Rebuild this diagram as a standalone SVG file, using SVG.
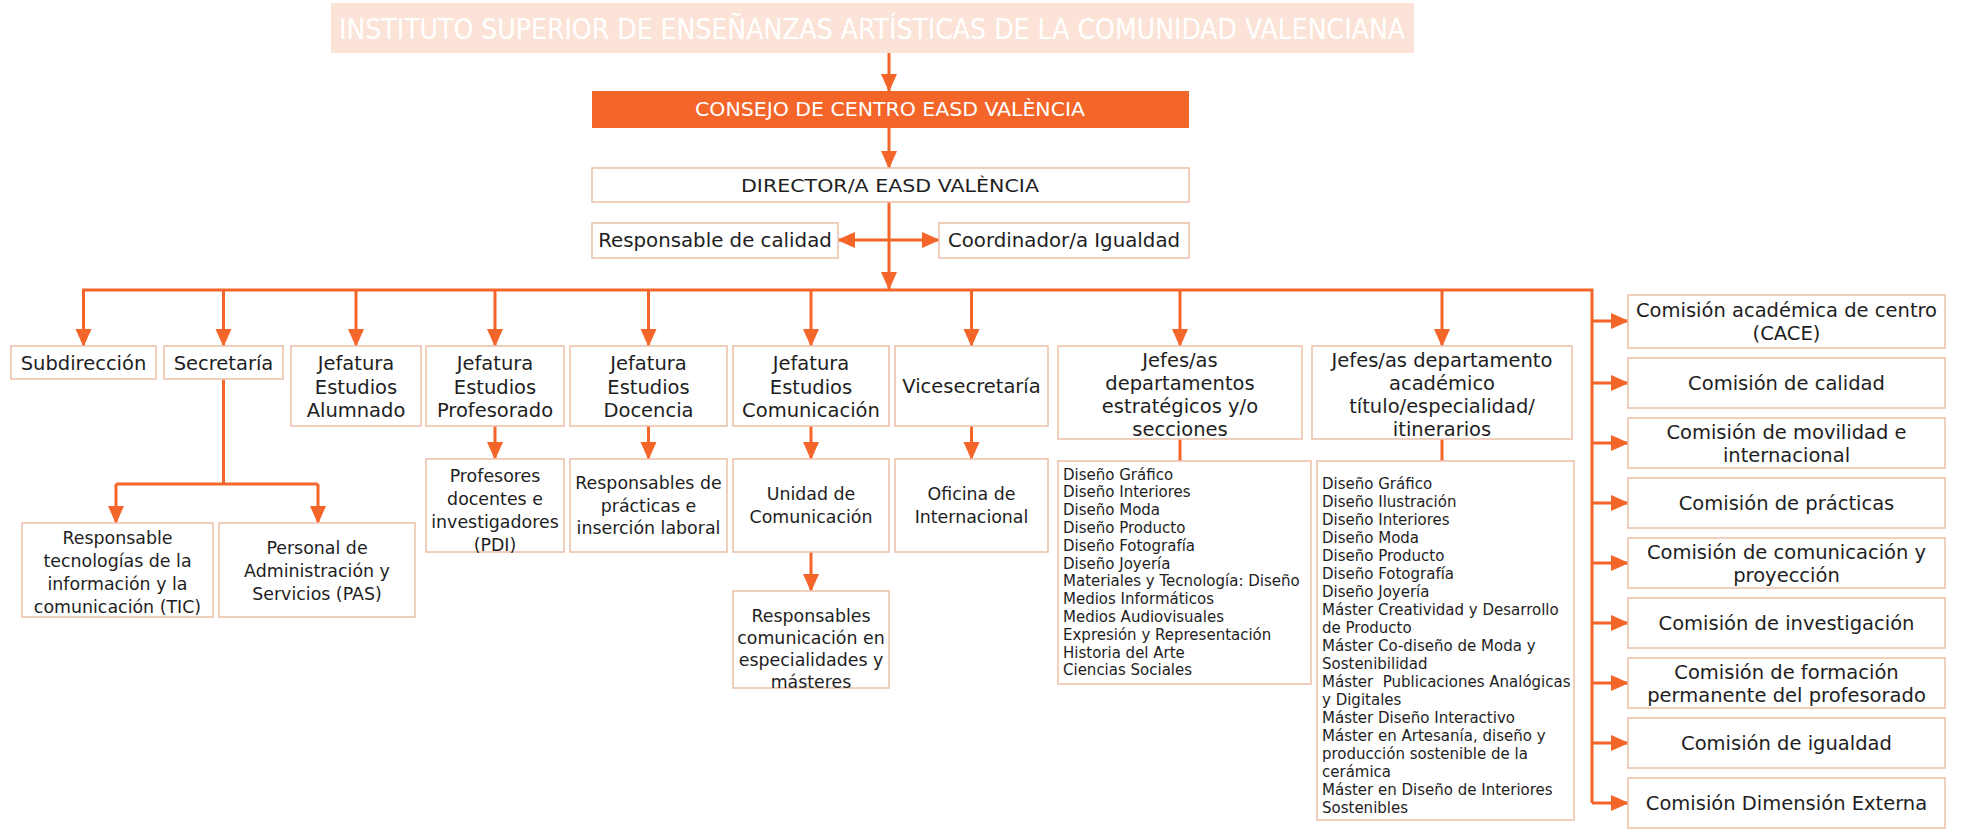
<svg xmlns="http://www.w3.org/2000/svg" width="1961" height="831" viewBox="0 0 1961 831">
<defs>
<style>
.box{fill:#ffffff;stroke:#EDC3AC;stroke-width:1.6}
.t{font-family:"DejaVu Sans",Verdana,sans-serif;fill:#1e1e1e;text-anchor:middle}
.c{font-family:"DejaVu Sans Condensed","DejaVu Sans",sans-serif;font-stretch:condensed;fill:#1e1e1e;text-anchor:middle}
.r1{font-size:19.5px}
.r2{font-size:17.4px}
.cm{font-size:19.5px}
.ls{font-family:"DejaVu Sans",sans-serif;font-size:15px;fill:#1e1e1e}
.ln{stroke:#F4652A;stroke-width:3;fill:none}
.a{marker-end:url(#ah)}
</style>
<marker id="ah" markerUnits="userSpaceOnUse" markerWidth="18" markerHeight="18" viewBox="0 0 18 18" refX="17" refY="9" orient="auto">
<path d="M0,1 L18,9 L0,17 Z" fill="#F4652A"/>
</marker>
</defs>
<rect width="1961" height="831" fill="#ffffff"/>

<g id="connectors">
<path class="ln a" d="M889,53 V91"/>
<path class="ln a" d="M889,128 V168"/>
<path class="ln a" d="M889,202 V289"/>
<path class="ln a" d="M889,240 H838"/>
<path class="ln a" d="M889,240 H939"/>
<path class="ln" d="M82,290 H1592 V803"/>
<path class="ln a" d="M83.5,290 V346"/>
<path class="ln a" d="M223.5,290 V346"/>
<path class="ln a" d="M356,290 V346"/>
<path class="ln a" d="M495,290 V346"/>
<path class="ln a" d="M648.5,290 V346"/>
<path class="ln a" d="M811,290 V346"/>
<path class="ln a" d="M971.5,290 V346"/>
<path class="ln a" d="M1180,290 V346"/>
<path class="ln a" d="M1442,290 V346"/>
<path class="ln a" d="M1592,321 H1628"/>
<path class="ln a" d="M1592,383 H1628"/>
<path class="ln a" d="M1592,443 H1628"/>
<path class="ln a" d="M1592,503 H1628"/>
<path class="ln a" d="M1592,563 H1628"/>
<path class="ln a" d="M1592,623 H1628"/>
<path class="ln a" d="M1592,683 H1628"/>
<path class="ln a" d="M1592,743 H1628"/>
<path class="ln a" d="M1592,803 H1628"/>
<path class="ln a" d="M495,426 V459"/>
<path class="ln a" d="M648.5,426 V459"/>
<path class="ln a" d="M811,426 V459"/>
<path class="ln a" d="M971.5,426 V459"/>
<path class="ln" d="M1180,439 V461"/>
<path class="ln" d="M1442,439 V461"/>
<path class="ln" d="M223.5,379 V484 M116,484 H318"/>
<path class="ln a" d="M116,484 V523"/>
<path class="ln a" d="M318,484 V523"/>
<path class="ln a" d="M811,552 V591"/>
</g>

<g id="instituto">
<rect x="331" y="3" width="1083" height="50" fill="#FCE3D7"/>
<text x="872" y="39" font-family="DejaVu Sans Condensed,DejaVu Sans,sans-serif" font-stretch="condensed" font-size="28" fill="#ffffff" text-anchor="middle" textLength="1066" lengthAdjust="spacingAndGlyphs">INSTITUTO SUPERIOR DE ENSEÑANZAS ARTÍSTICAS DE LA COMUNIDAD VALENCIANA</text>
</g>

<g id="consejo">
<rect x="592" y="91" width="597" height="37" fill="#F4652A"/>
<text class="c" x="890" y="116" font-size="19" style="fill:#ffffff" textLength="390" lengthAdjust="spacingAndGlyphs">CONSEJO DE CENTRO EASD VALÈNCIA</text>
</g>

<g id="director">
<rect class="box" x="592" y="168" width="597" height="34"/>
<text class="t" x="890" y="191.5" font-size="18.5" textLength="298" lengthAdjust="spacingAndGlyphs">DIRECTOR/A EASD VALÈNCIA</text>
</g>

<g id="resp-calidad">
<rect class="box" x="592" y="223" width="246" height="35"/>
<text class="t" x="715" y="247" font-size="19.8">Responsable de calidad</text>
</g>

<g id="coord-igualdad">
<rect class="box" x="939" y="223" width="250" height="35"/>
<text class="t" x="1064" y="247" font-size="19.8">Coordinador/a Igualdad</text>
</g>

<g id="subdireccion">
<rect class="box" x="11" y="346" width="145" height="33"/>
<text class="t r1" x="83.5" y="370">Subdirección</text>
</g>

<g id="secretaria">
<rect class="box" x="164" y="346" width="119" height="33"/>
<text class="t r1" x="223.5" y="370">Secretaría</text>
</g>

<g id="jef-alumnado">
<rect class="box" x="291" y="346" width="130" height="80"/>
<text class="t r1" x="356" y="370"><tspan x="356">Jefatura</tspan><tspan x="356" dy="23.5">Estudios</tspan><tspan x="356" dy="23.5">Alumnado</tspan></text>
</g>

<g id="jef-profesorado">
<rect class="box" x="426" y="346" width="138" height="80"/>
<text class="t r1" x="495" y="370"><tspan x="495">Jefatura</tspan><tspan x="495" dy="23.5">Estudios</tspan><tspan x="495" dy="23.5">Profesorado</tspan></text>
</g>

<g id="jef-docencia">
<rect class="box" x="570" y="346" width="157" height="80"/>
<text class="t r1" x="648.5" y="370"><tspan x="648.5">Jefatura</tspan><tspan x="648.5" dy="23.5">Estudios</tspan><tspan x="648.5" dy="23.5">Docencia</tspan></text>
</g>

<g id="jef-comunicacion">
<rect class="box" x="733" y="346" width="156" height="80"/>
<text class="t r1" x="811" y="370"><tspan x="811">Jefatura</tspan><tspan x="811" dy="23.5">Estudios</tspan><tspan x="811" dy="23.5">Comunicación</tspan></text>
</g>

<g id="vicesecretaria">
<rect class="box" x="895" y="346" width="153" height="80"/>
<text class="t r1" x="971.5" y="393">Vicesecretaría</text>
</g>

<g id="jefes-estrategicos">
<rect class="box" x="1058" y="346" width="244" height="93"/>
<text class="t r1" x="1180" y="367"><tspan x="1180">Jefes/as</tspan><tspan x="1180" dy="23">departamentos</tspan><tspan x="1180" dy="23">estratégicos y/o</tspan><tspan x="1180" dy="23">secciones</tspan></text>
</g>

<g id="jefes-academico">
<rect class="box" x="1312" y="346" width="260" height="93"/>
<text class="t r1" x="1442" y="367"><tspan x="1442">Jefes/as departamento</tspan><tspan x="1442" dy="23">académico</tspan><tspan x="1442" dy="23">título/especialidad/</tspan><tspan x="1442" dy="23">itinerarios</tspan></text>
</g>

<g id="pdi">
<rect class="box" x="426" y="459" width="138" height="93"/>
<text class="t r2" x="495" y="482"><tspan x="495">Profesores</tspan><tspan x="495" dy="23">docentes e</tspan><tspan x="495" dy="23">investigadores</tspan><tspan x="495" dy="23">(PDI)</tspan></text>
</g>

<g id="resp-practicas">
<rect class="box" x="570" y="459" width="157" height="93"/>
<text class="t r2" x="648.5" y="489"><tspan x="648.5">Responsables de</tspan><tspan x="648.5" dy="22.5">prácticas e</tspan><tspan x="648.5" dy="22.5">inserción laboral</tspan></text>
</g>

<g id="unidad-comunicacion">
<rect class="box" x="733" y="459" width="156" height="93"/>
<text class="t r2" x="811" y="500"><tspan x="811">Unidad de</tspan><tspan x="811" dy="22.5">Comunicación</tspan></text>
</g>

<g id="oficina-internacional">
<rect class="box" x="895" y="459" width="153" height="93"/>
<text class="t r2" x="971.5" y="500"><tspan x="971.5">Oficina de</tspan><tspan x="971.5" dy="22.5">Internacional</tspan></text>
</g>

<g id="resp-comunicacion">
<rect class="box" x="733" y="591" width="156" height="97"/>
<text class="t r2" x="811" y="622"><tspan x="811">Responsables</tspan><tspan x="811" dy="22">comunicación en</tspan><tspan x="811" dy="22">especialidades y</tspan><tspan x="811" dy="22">másteres</tspan></text>
</g>

<g id="tic">
<rect class="box" x="22" y="523" width="191" height="94"/>
<text class="t r2" x="117.5" y="544"><tspan x="117.5">Responsable</tspan><tspan x="117.5" dy="23">tecnologías de la</tspan><tspan x="117.5" dy="23">información y la</tspan><tspan x="117.5" dy="23">comunicación (TIC)</tspan></text>
</g>

<g id="pas">
<rect class="box" x="219" y="523" width="196" height="94"/>
<text class="t r2" x="317" y="554"><tspan x="317">Personal de</tspan><tspan x="317" dy="23">Administración y</tspan><tspan x="317" dy="23">Servicios (PAS)</tspan></text>
</g>

<g id="lista-estrategicos">
<rect class="box" x="1058" y="461" width="253" height="223"/>
<text class="ls" x="1063" y="479.5"><tspan x="1063">Diseño Gráfico</tspan><tspan x="1063" dy="17.8">Diseño Interiores</tspan><tspan x="1063" dy="17.8">Diseño Moda</tspan><tspan x="1063" dy="17.8">Diseño Producto</tspan><tspan x="1063" dy="17.8">Diseño Fotografía</tspan><tspan x="1063" dy="17.8">Diseño Joyería</tspan><tspan x="1063" dy="17.8">Materiales y Tecnología: Diseño</tspan><tspan x="1063" dy="17.8">Medios Informáticos</tspan><tspan x="1063" dy="17.8">Medios Audiovisuales</tspan><tspan x="1063" dy="17.8">Expresión y Representación</tspan><tspan x="1063" dy="17.8">Historia del Arte</tspan><tspan x="1063" dy="17.8">Ciencias Sociales</tspan></text>
</g>

<g id="lista-academico">
<rect class="box" x="1317" y="461" width="257" height="359"/>
<text class="ls" x="1322" y="488.5"><tspan x="1322">Diseño Gráfico</tspan><tspan x="1322" dy="18.05">Diseño Ilustración</tspan><tspan x="1322" dy="18.05">Diseño Interiores</tspan><tspan x="1322" dy="18.05">Diseño Moda</tspan><tspan x="1322" dy="18.05">Diseño Producto</tspan><tspan x="1322" dy="18.05">Diseño Fotografía</tspan><tspan x="1322" dy="18.05">Diseño Joyería</tspan><tspan x="1322" dy="18.05">Máster Creatividad y Desarrollo</tspan><tspan x="1322" dy="18.05">de Producto</tspan><tspan x="1322" dy="18.05">Máster Co-diseño de Moda y</tspan><tspan x="1322" dy="18.05">Sostenibilidad</tspan><tspan x="1322" dy="18.05" style="white-space:pre">Máster  Publicaciones Analógicas</tspan><tspan x="1322" dy="18.05">y Digitales</tspan><tspan x="1322" dy="18.05">Máster Diseño Interactivo</tspan><tspan x="1322" dy="18.05">Máster en Artesanía, diseño y</tspan><tspan x="1322" dy="18.05">producción sostenible de la</tspan><tspan x="1322" dy="18.05">cerámica</tspan><tspan x="1322" dy="18.05">Máster en Diseño de Interiores</tspan><tspan x="1322" dy="18.05">Sostenibles</tspan></text>
</g>

<g id="com-cace">
<rect class="box" x="1628" y="295" width="317" height="53"/>
<text class="t cm" x="1786.5" y="316.5"><tspan x="1786.5">Comisión académica de centro</tspan><tspan x="1786.5" dy="23">(CACE)</tspan></text>
</g>
<g id="com-calidad">
<rect class="box" x="1628" y="358" width="317" height="50"/>
<text class="t cm" x="1786.5" y="390">Comisión de calidad</text>
</g>
<g id="com-movilidad">
<rect class="box" x="1628" y="418" width="317" height="50"/>
<text class="t cm" x="1786.5" y="438.5"><tspan x="1786.5">Comisión de movilidad e</tspan><tspan x="1786.5" dy="23">internacional</tspan></text>
</g>
<g id="com-practicas">
<rect class="box" x="1628" y="478" width="317" height="50"/>
<text class="t cm" x="1786.5" y="510">Comisión de prácticas</text>
</g>
<g id="com-comunicacion">
<rect class="box" x="1628" y="538" width="317" height="50"/>
<text class="t cm" x="1786.5" y="558.5"><tspan x="1786.5">Comisión de comunicación y</tspan><tspan x="1786.5" dy="23">proyección</tspan></text>
</g>
<g id="com-investigacion">
<rect class="box" x="1628" y="598" width="317" height="50"/>
<text class="t cm" x="1786.5" y="630">Comisión de investigación</text>
</g>
<g id="com-formacion">
<rect class="box" x="1628" y="658" width="317" height="50"/>
<text class="t cm" x="1786.5" y="678.5"><tspan x="1786.5">Comisión de formación</tspan><tspan x="1786.5" dy="23">permanente del profesorado</tspan></text>
</g>
<g id="com-igualdad">
<rect class="box" x="1628" y="718" width="317" height="50"/>
<text class="t cm" x="1786.5" y="750">Comisión de igualdad</text>
</g>
<g id="com-dimension">
<rect class="box" x="1628" y="778" width="317" height="50"/>
<text class="t cm" x="1786.5" y="810">Comisión Dimensión Externa</text>
</g>
</svg>
